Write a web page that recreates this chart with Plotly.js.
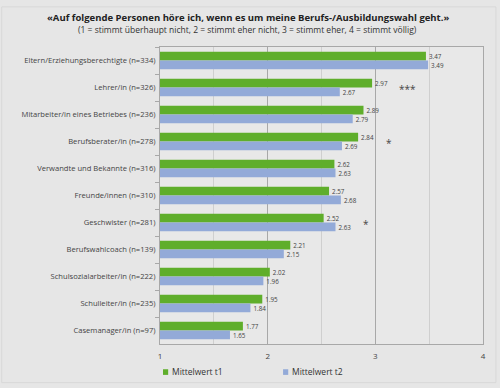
<!DOCTYPE html>
<html>
<head>
<meta charset="utf-8">
<script src="https://cdn.plot.ly/plotly-3.0.1.min.js"></script>
<style>
html,body{margin:0;padding:0;background:#e6e6e6;}
#chart{width:500px;height:388px;}
</style>
</head>
<body>
<div id="chart"></div>
<script>
var categories = [
  "Eltern/Erziehungsberechtigte (n=334)",
  "Lehrer/in (n=326)",
  "Mitarbeiter/in eines Betriebes (n=236)",
  "Berufsberater/in (n=278)",
  "Verwandte und Bekannte (n=316)",
  "Freunde/innen (n=310)",
  "Geschwister (n=281)",
  "Berufswahlcoach (n=139)",
  "Schulsozialarbeiter/in (n=222)",
  "Schulleiter/in (n=235)",
  "Casemanager/in (n=97)"
];
var t1 = [3.47, 2.97, 2.89, 2.84, 2.62, 2.57, 2.52, 2.21, 2.02, 1.95, 1.77];
var t2 = [3.49, 2.67, 2.79, 2.69, 2.63, 2.68, 2.63, 2.15, 1.96, 1.84, 1.65];
var stars = ["", "***", "", "*", "", "", "*", "", "", "", ""];
var starX = [null, 3.30, null, 3.13, null, null, 2.91, null, null, null, null];
var seriesNames = ["Mittelwert t1", "Mittelwert t2"];
var seriesColors = ["#5fae2b", "#93aad8"];
var xTicks = [1, 2, 3, 4];

var fontFam = "Open Sans, Lato, sans-serif";
var traces = [
  {type:"bar", orientation:"h", name:seriesNames[0], y:categories, x:t1.map(function(v){return v-1;}), base:1,
   marker:{color:seriesColors[0]}, text:t1.map(function(v){return v.toFixed(2);}), textposition:"outside",
   textfont:{size:8, color:"#444", family:fontFam}, cliponaxis:false, hoverinfo:"skip"},
  {type:"bar", orientation:"h", name:seriesNames[1], y:categories, x:t2.map(function(v){return v-1;}), base:1,
   marker:{color:seriesColors[1]}, text:t2.map(function(v){return v.toFixed(2);}), textposition:"outside",
   textfont:{size:8, color:"#444", family:fontFam}, cliponaxis:false, hoverinfo:"skip"}
];

var annotations = [
  {xref:"paper", yref:"paper", x:0.272, y:1.0, yshift:30, xanchor:"center", yanchor:"middle", showarrow:false,
   text:"<b>«Auf folgende Personen höre ich, wenn es um meine Berufs-/Ausbildungswahl geht.»</b>",
   font:{size:9.5, color:"#222", family:fontFam}},
  {xref:"paper", yref:"paper", x:0.272, y:1.0, yshift:18, xanchor:"center", yanchor:"middle", showarrow:false,
   text:"(1 = stimmt überhaupt nicht, 2 = stimmt eher nicht, 3 = stimmt eher, 4 = stimmt völlig)",
   font:{size:8.5, color:"#333", family:fontFam}}
];
for (var i=0;i<categories.length;i++){
  if (stars[i]) {
    annotations.push({x:starX[i], y:categories[i], xref:"x", yref:"y", showarrow:false, text:stars[i],
      font:{size:10, color:"#444", family:fontFam}, xanchor:"center", yanchor:"middle", yshift:-1});
  }
}
// manual legend
var legX = [0.0093, 0.381];
var shapes = [{type:"rect", xref:"paper", yref:"paper", x0:-0.49, x1:1.04, y0:-0.13, y1:1.135,
           line:{color:"#d8d8d8", width:1}, fillcolor:"rgba(0,0,0,0)", layer:"below"}];
for (var k=0;k<seriesNames.length;k++){
  shapes.push({type:"rect", xref:"paper", yref:"paper", x0:legX[k], x1:legX[k]+0.016, y0:-0.104, y1:-0.085,
    line:{width:0}, fillcolor:seriesColors[k]});
  annotations.push({xref:"paper", yref:"paper", x:legX[k]+0.021, y:-0.094, xanchor:"left", yanchor:"middle",
    showarrow:false, text:seriesNames[k], font:{size:8.5, color:"#333", family:fontFam}});
}

var layout = {
  width:500, height:388,
  paper_bgcolor:"#e6e6e6", plot_bgcolor:"#e8e8e8",
  margin:{l:160, r:17, t:47, b:44},
  barmode:"group", bargap:0.36, bargroupgap:0,
  showlegend:false,
  xaxis:{range:[1,4], tickvals:xTicks, ticktext:xTicks.map(String), showgrid:true, gridcolor:"#a8a8a8", gridwidth:1,
         minor:{dtick:0.5, tick0:1, showgrid:true, gridcolor:"#cfcfcf", gridwidth:1},
         zeroline:false, showline:true, linecolor:"#a8a8a8", mirror:true,
         tickfont:{size:8, color:"#444", family:fontFam}, ticks:"", ticklabelstandoff:4, fixedrange:true},
  yaxis:{autorange:"reversed", type:"category", showgrid:false, showline:true, linecolor:"#a8a8a8", mirror:true,
         ticks:"outside", tickson:"boundaries", ticklen:4, tickcolor:"#a8a8a8",
         tickfont:{size:7.6, color:"#444", family:fontFam}, ticklabelstandoff:2, fixedrange:true},
  annotations:annotations,
  shapes:shapes
};

Plotly.newPlot("chart", traces, layout, {displayModeBar:false, staticPlot:true});
</script>
</body>
</html>
